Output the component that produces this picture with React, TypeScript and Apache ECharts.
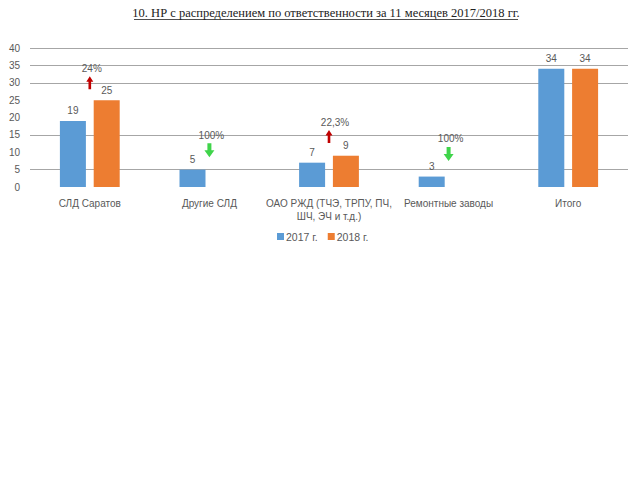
import React, { useEffect, useRef } from "react";
import * as echarts from "echarts";

const titleText = "10. НР с распределением по ответственности за 11 месяцев 2017/2018 гг.";
const categories = [
  "СЛД Саратов",
  "Другие СЛД",
  "ОАО РЖД (ТЧЭ, ТРПУ, ПЧ,\nШЧ, ЭЧ и т.д.)",
  "Ремонтные заводы",
  "Итого",
];
const values2017 = [19, 5, 7, 3, 34];
const values2018: (number | null)[] = [25, null, 9, null, 34];
// change annotations: category index, arrow value level, label, direction
const changeIdx = [0, 1, 2, 3];
const changeLevel = [30, 10.6, 14.5, 9.5];
const changeLabel = ["24%", "100%", "22,3%", "100%"];
const changeUp = [true, false, true, false];

const UP_ARROW = "path://M4,0 L8,5 L5.5,5 L5.5,12 L2.5,12 L2.5,5 L0,5 Z";
const DOWN_ARROW = "path://M3,0 L7,0 L7,7 L10,7 L5,14 L0,7 L3,7 Z";

export default function App() {
  const ref = useRef<HTMLDivElement>(null);
  useEffect(() => {
    document.body.style.margin = "0";
    const chart = echarts.init(ref.current!, null, { renderer: "svg" });
    const font = "Liberation Sans";
    const gridColors = [
      "transparent", "#a6a6a6", "transparent", "#a6a6a6", "transparent",
      "transparent", "#a6a6a6", "#a6a6a6", "#a6a6a6",
    ];
    const labelColor = "#595959";
    chart.setOption({
      animation: false,
      backgroundColor: "#ffffff",
      textStyle: { fontFamily: font },
      graphic: [
        {
          type: "text",
          x: 326,
          y: 6,
          style: {
            text: titleText,
            font: "12.5px 'Liberation Serif'",
            fill: "#222222",
            align: "center",
          },
        },
        {
          type: "line",
          shape: { x1: 134, y1: 19.5, x2: 518, y2: 19.5 },
          style: { stroke: "#222222", lineWidth: 0.8 },
        },
      ],
      grid: { left: 30, right: 12, top: 48, bottom: 293, containLabel: false },
      legend: {
        data: ["2017 г.", "2018 г."],
        top: 226,
        left: 272,
        itemWidth: 7,
        itemHeight: 7,
        itemGap: 10,
        icon: "rect",
        textStyle: { color: labelColor, fontSize: 10.5, fontFamily: font, padding: [0, 0, 0, -3] },
      },
      xAxis: {
        type: "category",
        data: categories,
        axisLine: { show: false },
        axisTick: { show: false },
        axisLabel: {
          color: labelColor,
          fontSize: 10,
          margin: 10,
          interval: 0,
          lineHeight: 13,
        },
      },
      yAxis: {
        type: "value",
        min: 0,
        max: 40,
        interval: 5,
        axisLine: { show: false },
        axisTick: { show: false },
        axisLabel: { color: labelColor, fontSize: 10, margin: 10 },
        splitLine: { lineStyle: { color: gridColors, width: 1 } },
      },
      series: [
        {
          name: "2017 г.",
          type: "bar",
          data: values2017,
          barWidth: 26,
          barGap: "30%",
          itemStyle: { color: "#5b9bd5" },
          label: { show: true, position: "top", distance: 5, color: labelColor, fontSize: 10 },
        },
        {
          name: "2018 г.",
          type: "bar",
          data: values2018,
          barWidth: 26,
          itemStyle: { color: "#ed7d31" },
          label: { show: true, position: "top", distance: 5, color: labelColor, fontSize: 10 },
        },
        {
          type: "scatter",
          silent: true,
          z: 5,
          data: changeIdx.map((c, i) => ({
            value: [c, changeLevel[i]],
            symbol: changeUp[i] ? UP_ARROW : DOWN_ARROW,
            symbolSize: changeUp[i] ? [7, 13] : [10, 14],
            itemStyle: { color: changeUp[i] ? "#c00000" : "#3fd44a", opacity: 1 },
            label: {
              show: true,
              position: "top",
              distance: 3,
              offset: [changeUp[i] && i === 2 ? 6 : 2, 0],
              formatter: changeLabel[i],
              color: labelColor,
              fontSize: 10,
            },
          })),
        },
      ],
    });
    return () => chart.dispose();
  }, []);
  return <div ref={ref} style={{ width: 640, height: 480 }} />;
}
